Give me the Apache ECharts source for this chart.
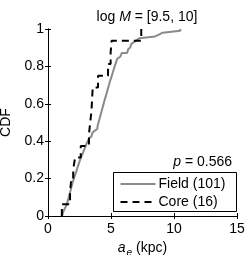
<!DOCTYPE html>
<html>
<head>
<meta charset="utf-8">
<script src="https://cdn.jsdelivr.net/npm/echarts@6/dist/echarts.min.js"></script>
<style>html,body{margin:0;padding:0;background:#fff;}#c{width:249px;height:255px;}</style>
</head>
<body>
<div id="c"></div>
<script>
// Field sample (101 galaxies), a_e in kpc, sorted
var fieldValues = [
  1.12, 1.19, 1.26, 1.33, 1.40, 1.48, 1.52, 1.56, 1.60, 1.64,
  1.68, 1.72, 1.76, 1.80, 1.84, 1.87, 1.91, 1.95, 1.99, 2.04,
  2.09, 2.14, 2.19, 2.24, 2.28, 2.33, 2.38, 2.43, 2.48, 2.53,
  2.58, 2.64, 2.70, 2.76, 2.82, 2.88, 2.94, 3.00, 3.06, 3.12,
  3.19, 3.27, 3.36, 3.44, 3.53, 3.61, 3.69, 3.91, 3.95, 3.99,
  4.03, 4.07, 4.11, 4.15, 4.19, 4.23, 4.27, 4.31, 4.35, 4.39,
  4.43, 4.47, 4.51, 4.55, 4.60, 4.64, 4.68, 4.72, 4.76, 4.81,
  4.85, 4.89, 4.93, 4.98, 5.03, 5.07, 5.12, 5.17, 5.21, 5.26,
  5.30, 5.35, 5.40, 5.44, 5.50, 5.61, 5.73, 5.85, 6.28, 6.36,
  6.45, 6.53, 6.62, 6.70, 6.85, 7.05, 7.25, 8.50, 8.80, 9.10,
  10.50
];
// Core sample (16 galaxies)
var coreValues = [1.10, 1.75, 1.83, 2.00, 2.15, 2.60, 3.25, 3.35, 3.45, 3.50, 3.55, 3.97, 4.76, 4.97, 5.05, 7.40];
var seriesNames = ['Field (101)', 'Core (16)'];
var xTicks = [0, 5, 10, 15];
var yTicks = [0, 0.2, 0.4, 0.6, 0.8, 1];
var pText = '0.566';

function ecdf(vals) {
  var n = vals.length, out = [[vals[0], 0]];
  for (var i = 0; i < n; i++) out.push([vals[i], (i + 1) / n]);
  return out;
}

var FONT = 'Liberation Sans';
var FS = 14;
var GREY = '#8a8a8a';
var DASH = [7, 5];
var chart = echarts.init(document.getElementById('c'), null, {renderer: 'canvas'});
var common = {min: 0, axisLine: {show: true, lineStyle: {color: '#000', width: 1}},
  splitLine: {show: false}};
var txt = {fontFamily: FONT, fontSize: FS, fill: '#000'};
chart.setOption({
  animation: false,
  backgroundColor: '#fff',
  textStyle: {fontFamily: FONT},
  title: {
    text: '{n|log }{i|M}{n| = [9.5, 10]}',
    left: 142, top: 5, textAlign: 'center',
    textStyle: {fontWeight: 'normal', rich: {
      n: {fontFamily: FONT, fontSize: FS, fontWeight: 'normal', color: '#000'},
      i: {fontFamily: FONT, fontSize: FS, fontWeight: 'normal', fontStyle: 'italic', color: '#000'}}}
  },
  grid: {left: 48, right: 12, top: 29, bottom: 39, outerBoundsMode: 'none', containLabel: false},
  xAxis: [
    Object.assign({type: 'value', max: 15, interval: 5, position: 'bottom',
      axisTick: {show: true, inside: true, length: 3, lineStyle: {color: '#000'}},
      axisLabel: {fontFamily: FONT, fontSize: FS, color: '#000', margin: 6,
        formatter: function (v) { return xTicks.indexOf(v) >= 0 ? String(v) : ''; }},
      name: '{i|a}{s|e}{n| (kpc)}', nameLocation: 'middle', nameGap: 20,
      nameTextStyle: {rich: {
        i: {fontFamily: FONT, fontSize: FS, fontStyle: 'italic', color: '#000'},
        s: {fontFamily: FONT, fontSize: 10, fontStyle: 'italic', color: '#000', verticalAlign: 'top', padding: [11, 0, 0, 1]},
        n: {fontFamily: FONT, fontSize: FS, color: '#000'}}}
    }, common),
    Object.assign({type: 'value', max: 15, interval: 5, position: 'top',
      axisTick: {show: true, inside: true, length: 3, lineStyle: {color: '#000'}},
      axisLabel: {show: false}}, common)
  ],
  yAxis: [
    Object.assign({type: 'value', max: 1, interval: 0.2, position: 'left',
      axisTick: {show: true, inside: true, length: 3, lineStyle: {color: '#000'}},
      axisLabel: {fontFamily: FONT, fontSize: FS, color: '#000', margin: 4,
        formatter: function (v) { var r = Math.round(v * 10) / 10; return yTicks.indexOf(r) >= 0 ? String(r) : ''; }},
      name: 'CDF', nameLocation: 'middle', nameGap: 25,
      nameTextStyle: {fontFamily: FONT, fontSize: FS, color: '#000'}
    }, common),
    Object.assign({type: 'value', max: 1, interval: 0.2, position: 'right',
      axisTick: {show: true, inside: true, length: 3, lineStyle: {color: '#000'}},
      axisLabel: {show: false}}, common)
  ],
  series: [
    {name: seriesNames[0], type: 'line', step: 'end', data: ecdf(fieldValues),
     showSymbol: false, symbol: 'none', lineStyle: {color: GREY, width: 2}, z: 2},
    {name: seriesNames[1], type: 'line', step: 'end', data: ecdf(coreValues),
     showSymbol: false, symbol: 'none', lineStyle: {color: '#000', width: 2, type: DASH}, z: 3}
  ],
  graphic: [
    {type: 'text', right: 17, top: 155, z: 10,
     style: {text: '{i|p}{n| = ' + pText + '}',
       rich: {i: Object.assign({fontStyle: 'italic'}, txt), n: txt}}},
    {type: 'group', left: 113, top: 172, z: 10, children: [
      {type: 'rect', shape: {x: 0, y: 0, width: 123, height: 39},
       style: {fill: '#fff', stroke: '#000', lineWidth: 1}},
      {type: 'line', shape: {x1: 7, y1: 11.5, x2: 42, y2: 11.5},
       style: {stroke: GREY, lineWidth: 2}},
      {type: 'text', x: 45, y: 12, style: Object.assign({text: seriesNames[0], verticalAlign: 'middle'}, txt)},
      {type: 'line', shape: {x1: 7, y1: 29.5, x2: 42, y2: 29.5},
       style: {stroke: '#000', lineWidth: 2, lineDash: DASH}},
      {type: 'text', x: 45, y: 30, style: Object.assign({text: seriesNames[1], verticalAlign: 'middle'}, txt)}
    ]}
  ]
});
</script>
</body>
</html>
